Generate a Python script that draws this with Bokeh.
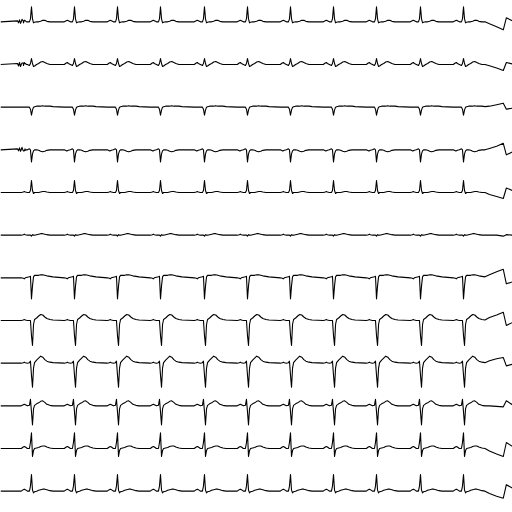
import numpy as np
from bokeh.plotting import figure
from bokeh.models import Range1d
from bokeh.embed import file_html
from bokeh.resources import INLINE

# 12-lead ECG, 10 s record, values in mV
lead_names = ["I", "II", "III", "aVR", "aVL", "aVF", "V1", "V2", "V3", "V4", "V5", "V6"]
r_peaks_s = [0.605, 1.445, 2.285, 3.125, 3.984, 4.824, 5.664, 6.504, 7.344, 8.203, 9.043]

# beat template sample times relative to each R peak (s)
beat_offsets_s = [-0.200, -0.160, -0.140, -0.120, -0.080, -0.040, -0.020, 0.0, 0.020, 0.040,
                  0.060, 0.100, 0.140, 0.180, 0.220, 0.260, 0.300, 0.360, 0.420]

beat_I = [0, 0.05, 0.075, 0.05, 0, 0, 0.15, 0.75, 0.15, -0.05, -0.025, 0, 0, 0.025, 0.075, 0.075, 0.025, 0, 0]
beat_II = [0, 0.075, 0.1, 0.05, 0, -0.05, 0.05, 0.3, 0.05, -0.1, -0.075, 0, 0.05, 0.125, 0.15, 0.1, 0.05, 0, 0]
beat_III = [0, 0, 0, 0, 0, 0, -0.1, -0.4, -0.15, 0, 0.025, 0.05, 0.05, 0.05, 0.075, 0.05, 0.05, 0.05, 0.025]
beat_aVR = [0, -0.05, -0.05, -0.025, 0, 0.05, 0, -0.6, -0.2, -0.05, 0, 0, -0.025, -0.075, -0.1, -0.075, -0.025, 0, 0]
beat_aVL = [0, 0.025, 0.05, 0.025, 0, 0, 0.1, 0.6, 0.1, -0.05, 0, 0, 0, 0.025, 0.05, 0.05, 0.025, 0, 0]
beat_aVF = [0, 0.025, 0.05, 0.025, 0, 0, 0, -0.05, 0.025, 0, 0, 0.025, 0.05, 0.075, 0.075, 0.05, 0.025, 0, 0]
beat_V1 = [0, -0.025, -0.05, 0, 0.025, 0.05, 0.075, -1.05, -0.4, 0.05, 0.125, 0.125, 0.125, 0.15, 0.15, 0.125, 0.1, 0.075, 0.05]
beat_V2 = [0, 0.025, 0.05, 0.025, 0, 0, 0, -0.75, -1.25, -0.2, 0.05, 0.125, 0.225, 0.3, 0.275, 0.175, 0.1, 0.05, 0.025]
beat_V3 = [0, 0.025, 0.05, 0.025, 0, 0.025, 0.1, -0.6, -1.2, -0.25, 0.025, 0.15, 0.25, 0.35, 0.3, 0.175, 0.1, 0.05, 0.025]
beat_V4 = [0, 0.05, 0.075, 0.05, 0, 0.025, 0.325, -0.3, -0.95, -0.15, 0.025, 0.1, 0.15, 0.225, 0.25, 0.175, 0.075, 0.025, 0]
beat_V5 = [0, 0.075, 0.1, 0.075, 0, 0, 0.3, 0.785, -0.4, -0.1, 0, 0.025, 0.05, 0.1, 0.125, 0.125, 0.075, 0.025, 0]
beat_V6 = [0, 0.075, 0.1, 0.075, 0, 0, 0.25, 0.835, 0.05, -0.085, -0.025, 0, 0.05, 0.075, 0.1, 0.1, 0.075, 0.025, 0]

# end-of-record artefact
tail_t = [9.55, 9.69, 9.82, 9.88, 10.0]
tail_I = [-0.1, -0.25, -0.4, 0.2, 0.05]
tail_II = [-0.06, -0.175, -0.3, 0.1, 0.025]
tail_III = [0.05, 0.125, 0.2, -0.1, -0.05]
tail_aVR = [0.07, 0.175, 0.325, -0.25, -0.1]
tail_aVL = [-0.1, -0.2, -0.3, 0.225, 0.1]
tail_aVF = [0, 0, -0.05, 0.025, 0]
tail_V1 = [0.15, 0.3, 0.425, -0.3, -0.2]
tail_V2 = [0.15, 0.275, 0.415, -0.25, -0.1]
tail_V3 = [0.12, 0.225, 0.285, -0.135, -0.05]
tail_V4 = [0, -0.025, -0.05, 0.25, 0.05]
tail_V5 = [-0.12, -0.275, -0.4, 0.3, 0.1]
tail_V6 = [-0.12, -0.25, -0.35, 0.325, 0.15]

# early noise burst
noise_t = [0.332, 0.352, 0.371, 0.391, 0.420, 0.449, 0.479, 0.508]
noise_I = [0.05, -0.05, 0.1, -0.075, 0.125, -0.05, 0.075, 0]
noise_II = [0.05, -0.075, 0.1, -0.1, 0.075, -0.05, 0.05, 0]
noise_aVR = [0.05, -0.05, 0.1, -0.075, 0.125, -0.05, 0.05, 0]

beats = [beat_I, beat_II, beat_III, beat_aVR, beat_aVL, beat_aVF,
         beat_V1, beat_V2, beat_V3, beat_V4, beat_V5, beat_V6]
tails = [tail_I, tail_II, tail_III, tail_aVR, tail_aVL, tail_aVF,
         tail_V1, tail_V2, tail_V3, tail_V4, tail_V5, tail_V6]
noises = {0: noise_I, 1: noise_II, 3: noise_aVR}

lead_gap = 2.1333  # mV between lead baselines

p = figure(width=512, height=512, output_backend="svg", toolbar_location=None,
           x_range=Range1d(0, 10), y_range=Range1d(-11.5 * lead_gap, 0.5 * lead_gap),
           x_axis_location=None, y_axis_location=None, min_border=0,
           styles={"position": "absolute", "left": "0px", "top": "0px"})
p.grid.visible = False
p.outline_line_color = None
p.background_fill_color = "white"
p.border_fill_color = "white"

for i, name in enumerate(lead_names):
    t = [0.0]
    v = [0.0]
    for r in r_peaks_s:
        for o, a in zip(beat_offsets_s, beats[i]):
            t.append(r + o)
            v.append(a)
    if i in noises:
        t += noise_t
        v += noises[i]
    t += tail_t
    v += tails[i]
    t = np.array(t)
    v = np.array(v)
    order = np.argsort(t, kind="stable")
    p.line(t[order], v[order] - i * lead_gap, line_color="black", line_width=1.1,
           line_join="round")

open("out.html", "w").write(file_html(p, INLINE))
